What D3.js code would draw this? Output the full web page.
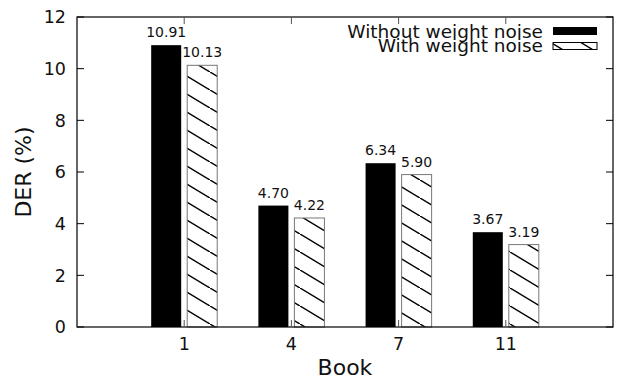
<!doctype html>
<html>
<head>
<style>
  body { margin: 0; background: #fff; }
  text { font-family: "DejaVu Sans", sans-serif; fill: #111; }
</style>
<script src="https://d3js.org/d3.v7.min.js"></script>
<title>DER by book</title>
</head>
<body>
<svg width="618" height="381"></svg>
<script>
var books = ["1", "4", "7", "11"];
var withoutNoise = [10.91, 4.70, 6.34, 3.67];
var withNoise = [10.13, 4.22, 5.90, 3.19];
var yTicks = [0, 2, 4, 6, 8, 10, 12];
var seriesNames = ["Without weight noise", "With weight noise"];

var svg = d3.select("svg"),
    plotL = 77, plotR = 613, plotT = 17, plotB = 327;

var x = d3.scaleLinear().domain([0, books.length + 1]).range([plotL, plotR]),
    y = d3.scaleLinear().domain([0, 12]).range([plotB, plotT]);

var barW = x(0.28) - x(0),
    gap = x(0.028) - x(0);

// hatch pattern
var pat = svg.append("defs").append("pattern")
    .attr("id", "hatch")
    .attr("patternUnits", "userSpaceOnUse")
    .attr("width", 30).attr("height", 18);
pat.append("rect").attr("width", 30).attr("height", 18).attr("fill", "#fff");
pat.append("path")
    .attr("d", "M-2,-1.2 L32,19.2 M-32,-19.2 L2,1.2 M28,16.8 L62,37.2")
    .attr("stroke", "#000").attr("stroke-width", 1.5);

// bars
var g = svg.append("g");
g.selectAll(".b0").data(withoutNoise).enter().append("rect")
    .attr("x", function(d, i) { return x(i + 1) - gap - barW; })
    .attr("y", function(d) { return y(d); })
    .attr("width", barW)
    .attr("height", function(d) { return plotB - y(d); })
    .attr("fill", "#000");

g.selectAll(".b1").data(withNoise).enter().append("rect")
    .attr("x", function(d, i) { return x(i + 1) + gap; })
    .attr("y", function(d) { return y(d); })
    .attr("width", barW)
    .attr("height", function(d) { return plotB - y(d); })
    .attr("fill", "url(#hatch)")
    .attr("stroke", "#777").attr("stroke-width", 1);

// value labels
g.selectAll(".l0").data(withoutNoise).enter().append("text")
    .attr("x", function(d, i) { return x(i + 1) - gap - barW / 2; })
    .attr("y", function(d) { return y(d) - 8; })
    .attr("text-anchor", "middle")
    .style("font-size", "14px")
    .text(function(d) { return d.toFixed(2); });

g.selectAll(".l1").data(withNoise).enter().append("text")
    .attr("x", function(d, i) { return x(i + 1) + gap + barW / 2; })
    .attr("y", function(d) { return y(d) - 8; })
    .attr("text-anchor", "middle")
    .style("font-size", "14px")
    .text(function(d) { return d.toFixed(2); });

// axes
var ax = svg.append("g");
ax.append("rect")
    .attr("x", plotL).attr("y", plotT)
    .attr("width", plotR - plotL).attr("height", plotB - plotT)
    .attr("fill", "none").attr("stroke", "#000").attr("stroke-width", 1.2);

ax.selectAll(".yt").data(yTicks).enter().append("path")
    .attr("d", function(d) {
        return "M" + plotL + "," + y(d) + "h7 M" + plotR + "," + y(d) + "h-7";
    })
    .attr("stroke", "#000").attr("stroke-width", 1);

ax.selectAll(".ytl").data(yTicks).enter().append("text")
    .attr("x", plotL - 11)
    .attr("y", function(d) { return y(d); })
    .attr("dy", "0.36em")
    .attr("text-anchor", "end")
    .style("font-size", "17.5px")
    .text(function(d) { return d; });

ax.selectAll(".xt").data(books).enter().append("path")
    .attr("d", function(d, i) {
        return "M" + x(i + 1) + "," + plotB + "v-7 M" + x(i + 1) + "," + plotT + "v7";
    })
    .attr("stroke", "#555").attr("stroke-width", 1);

ax.selectAll(".xtl").data(books).enter().append("text")
    .attr("x", function(d, i) { return x(i + 1); })
    .attr("y", plotB + 23)
    .attr("text-anchor", "middle")
    .style("font-size", "17.5px")
    .text(function(d) { return d; });

svg.append("text")
    .attr("x", (plotL + plotR) / 2)
    .attr("y", 375)
    .attr("text-anchor", "middle")
    .style("font-size", "22px")
    .text("Book");

svg.append("text")
    .attr("transform", "translate(31," + ((plotT + plotB) / 2) + ") rotate(-90)")
    .attr("text-anchor", "middle")
    .style("font-size", "22px")
    .text("DER (%)");

// legend
var leg = svg.append("g");
var rows = [31, 45.5];
leg.selectAll(".lt").data(seriesNames).enter().append("text")
    .attr("x", 543)
    .attr("y", function(d, i) { return rows[i]; })
    .attr("dy", "0.36em")
    .attr("text-anchor", "end")
    .style("font-size", "18.5px")
    .text(function(d) { return d; });

leg.append("rect")
    .attr("x", 553).attr("y", rows[0] - 4)
    .attr("width", 44).attr("height", 8)
    .attr("fill", "#000");
leg.append("rect")
    .attr("x", 553).attr("y", rows[1] - 3)
    .attr("width", 44).attr("height", 7)
    .attr("fill", "url(#hatch)")
    .attr("stroke", "#000").attr("stroke-width", 1);
</script>
</body>
</html>
